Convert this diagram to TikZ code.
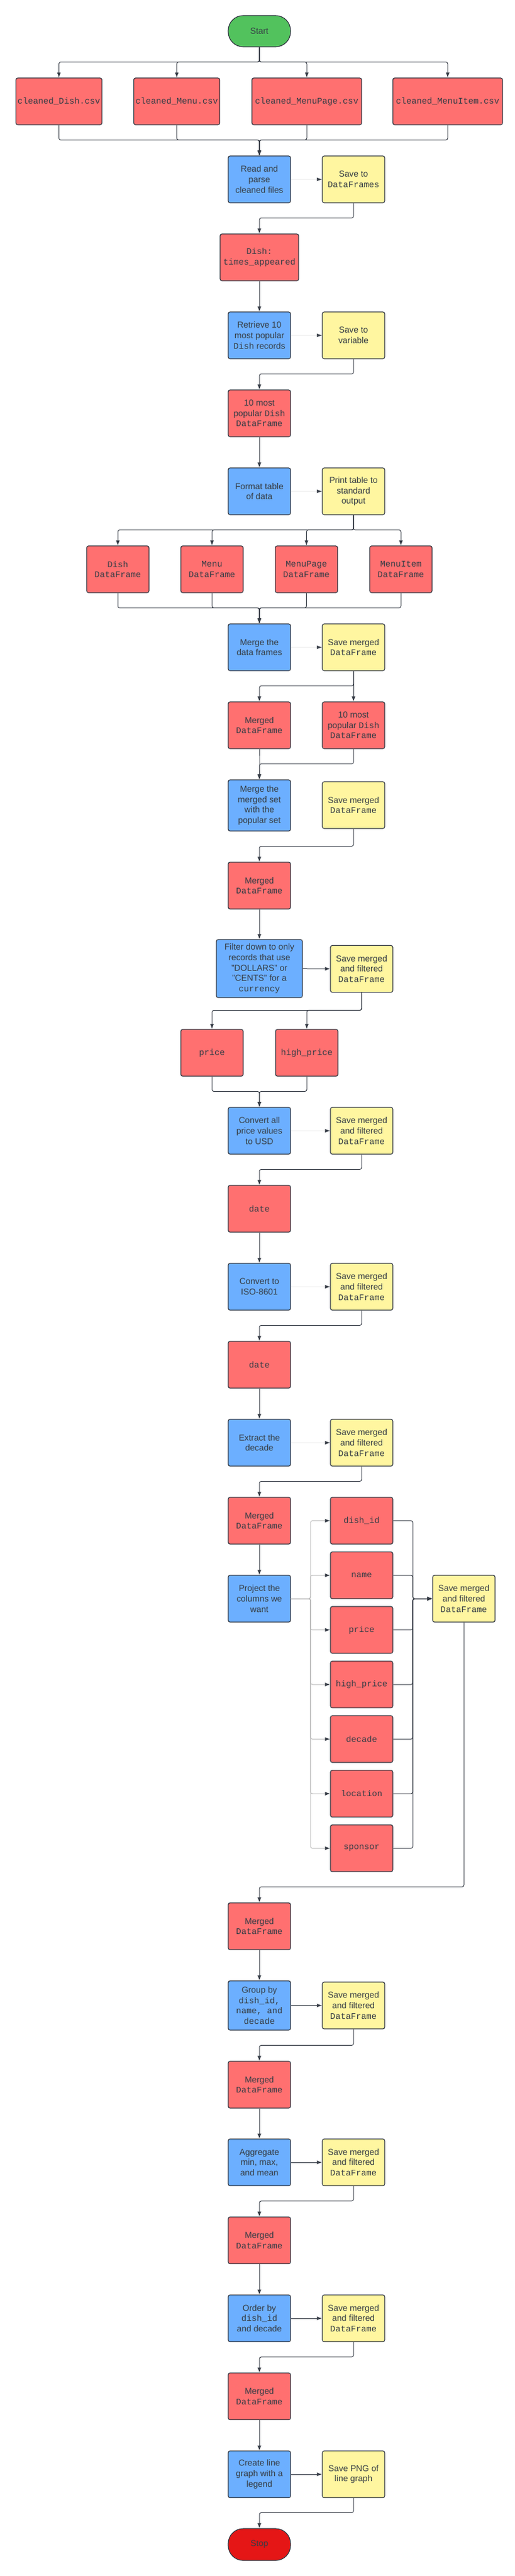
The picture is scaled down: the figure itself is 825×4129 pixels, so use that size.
\documentclass[tikz,border=0pt]{standalone}
\usepackage{fontspec}
\setmainfont{Liberation Sans}
\setmonofont{Liberation Mono}
\usetikzlibrary{arrows.meta}
\definecolor{datared}{HTML}{FF7070}
\definecolor{procblue}{HTML}{6CAFFF}
\definecolor{saveyellow}{HTML}{FFF6A0}
\definecolor{startgreen}{HTML}{52C25D}
\definecolor{stopred}{HTML}{E51616}
\definecolor{edge}{HTML}{343A44}
\definecolor{txt}{HTML}{363C45}
\newcommand{\boxfont}{\fontsize{13.8}{16.7}\selectfont}

\begin{document}
\begin{tikzpicture}[x=1pt, y=-1pt,
  box/.style={draw=edge, line width=1.2pt, rounded corners=3pt, minimum width=100pt,
    minimum height=75pt, inner sep=1pt, align=center, text=txt, font=\boxfont},
  data/.style={box, fill=datared},
  proc/.style={box, fill=procblue},
  keep/.style={box, fill=saveyellow},
  term/.style={box, minimum height=50pt, rounded corners=24pt},
  link/.style={draw=edge, line width=1pt, rounded corners=3pt, -{Latex[length=8pt, width=6pt]}},
  pale/.style={link, draw=black!28, -{Latex[length=8pt, width=6pt, color=edge]}},
  ghost/.style={link, draw=black!6, -{Latex[length=8pt, width=6pt, color=edge]}}]
\useasboundingbox (0,0) rectangle (825,4129);

% start and the cleaned files
\node[term, fill=startgreen] (start) at (416,50) {Start};
\foreach \n/\x/\w/\lbl in {csvDish/94.5/138/cleaned\_Dish.csv, csvMenu/283.5/138/cleaned\_Menu.csv,
    csvPage/492/176/cleaned\_MenuPage.csv, csvItem/718/176/cleaned\_MenuItem.csv}
  \node[data, minimum width=\w pt] (\n) at (\x,162.5) {\texttt{\lbl}};
\node[proc] (read) at (416,287.5) {Read and\\parse\\cleaned files};
\node[keep] (saveDF) at (567,287.5) {Save to\\\texttt{DataFrames}};
\node[data, minimum width=126pt] (times) at (416,412.5) {\texttt{Dish:}\\\texttt{times\_appeared}};
\node[proc] (retrieve) at (416,537.5) {Retrieve 10\\most popular\\\texttt{Dish} records};
\node[keep] (saveVar) at (567,537.5) {Save to\\variable};
\node[data] (popular) at (416,662.5) {10 most\\popular \texttt{Dish}\\\texttt{DataFrame}};
\node[proc] (format) at (416,787.5) {Format table\\of data};
\node[keep] (print) at (567,787.5) {Print table to\\standard\\output};

% the four data frames
\foreach \n/\x/\lbl in {dfDish/189/Dish, dfMenu/340/Menu, dfPage/491.5/MenuPage, dfItem/643/MenuItem}
  \node[data] (\n) at (\x,912.5) {\texttt{\lbl}\\\texttt{DataFrame}};
\node[proc] (merge) at (416,1037.5) {Merge the\\data frames};
\node[keep] (saveMerged) at (567,1037.5) {Save merged\\\texttt{DataFrame}};
\node[data] (merged) at (416,1162.5) {Merged\\\texttt{DataFrame}};
\node[data] (popularB) at (567,1162.5) {10 most\\popular \texttt{Dish}\\\texttt{DataFrame}};
\node[proc, minimum height=82pt] (mergeSet) at (416,1291) {Merge the\\merged set\\with the\\popular set};
\node[keep] (saveMergedB) at (567,1290.5) {Save merged\\\texttt{DataFrame}};
\node[data] (mergedB) at (416,1419.5) {Merged\\\texttt{DataFrame}};

% filtering and prices
\node[proc, minimum width=138pt, minimum height=93pt] (filter) at (416,1552.5)
  {Filter down to only\\records that use\\"DOLLARS" or\\"CENTS" for a\\\texttt{currency}};
\node[keep] (saveFilt) at (580,1553) {Save merged\\and filtered\\\texttt{DataFrame}};
\node[data] (price) at (340,1687.5) {\texttt{price}};
\node[data] (highPrice) at (492,1687.5) {\texttt{high\_price}};
\node[proc] (convert) at (416,1812.5) {Convert all\\price values\\to USD};
\node[keep] (saveUSD) at (580,1812.5) {Save merged\\and filtered\\\texttt{DataFrame}};
\node[data] (date) at (416,1937.5) {\texttt{date}};
\node[proc] (iso) at (416,2062.5) {Convert to\\ISO-8601};
\node[keep] (saveISO) at (580,2062.5) {Save merged\\and filtered\\\texttt{DataFrame}};
\node[data] (dateB) at (416,2187.5) {\texttt{date}};
\node[proc] (extract) at (416,2312.5) {Extract the\\decade};
\node[keep] (saveDecade) at (580,2312.5) {Save merged\\and filtered\\\texttt{DataFrame}};

% projection
\node[data] (mergedC) at (416,2437.5) {Merged\\\texttt{DataFrame}};
\node[proc] (project) at (416,2562.5) {Project the\\columns we\\want};
\foreach \lbl [count=\i from 0] in {dish\_id, name, price, high\_price, decade, location, sponsor}
  \node[data] (col\i) at (580,{2437.5+87.5*\i}) {\texttt{\lbl}};
\node[keep] (saveCols) at (744,2562.5) {Save merged\\and filtered\\\texttt{DataFrame}};

% grouping to the end
\node[data] (mergedD) at (416,3087.5) {Merged\\\texttt{DataFrame}};
\node[proc, minimum height=79pt] (group) at (416,3214.5)
  {Group by\\\texttt{dish\_id,}\\\texttt{name, and}\\\texttt{decade}};
\node[keep] (saveGroup) at (567,3214.5) {Save merged\\and filtered\\\texttt{DataFrame}};
\node[data] (mergedE) at (416,3341.5) {Merged\\\texttt{DataFrame}};
\node[proc] (aggregate) at (416,3466) {Aggregate\\min, max,\\and mean};
\node[keep] (saveAgg) at (567,3466) {Save merged\\and filtered\\\texttt{DataFrame}};
\node[data] (mergedF) at (416,3591) {Merged\\\texttt{DataFrame}};
\node[proc] (order) at (416,3716) {Order by\\\texttt{dish\_id}\\and decade};
\node[keep] (saveOrder) at (567,3716) {Save merged\\and filtered\\\texttt{DataFrame}};
\node[data] (mergedG) at (416,3841) {Merged\\\texttt{DataFrame}};
\node[proc] (create) at (416,3966) {Create line\\graph with a\\legend};
\node[keep] (savePNG) at (567,3966) {Save PNG of\\line graph};
\node[term, fill=stopred, minimum height=51pt] (stop) at (416,4078.5) {Stop};

% fan out and in
\foreach \n in {csvDish,csvMenu,csvPage,csvItem} {
  \draw[link] (start.south) |- ([yshift=25pt]\n.north) -- (\n.north);
  \draw[link] (\n.south) |- ([yshift=25pt]read.north) -- (read.north);
}
\foreach \n in {dfDish,dfMenu,dfPage,dfItem} {
  \draw[link] (print.south) |- ([yshift=25pt]\n.north) -- (\n.north);
  \draw[link] (\n.south) |- ([yshift=25pt]merge.north) -- (merge.north);
}
\foreach \n in {merged,popularB}
  \draw[link] (\n.south) |- ([yshift=25pt]mergeSet.north) -- (mergeSet.north);
\foreach \n in {price,highPrice} {
  \draw[link] (saveFilt.south) |- ([yshift=30pt]\n.north) -- (\n.north);
  \draw[link] (\n.south) |- ([yshift=25pt]convert.north) -- (convert.north);
}
\foreach \i in {0,...,6} {
  \draw[pale] (project.east) -- ++(31.5,0) |- (col\i.west);
  \draw[link] (col\i.east) -- ++(31.5,0) |- (saveCols.west);
}

% straight links
\foreach \a/\b in {times/retrieve, popular/format, saveMerged/popularB, mergedB/filter, date/iso,
    dateB/extract, mergedC/project, mergedD/group, mergedE/aggregate, mergedF/order, mergedG/create,
    filter/saveFilt, group/saveGroup, aggregate/saveAgg, order/saveOrder, create/savePNG}
  \draw[link] (\a) -- (\b);
\foreach \a/\b in {read/saveDF, retrieve/saveVar, format/print, merge/saveMerged, convert/saveUSD,
    iso/saveISO, extract/saveDecade}
  \draw[ghost] (\a) -- (\b);

% save boxes back to the main column
\foreach \a/\b in {saveDF/times, saveVar/popular, saveMerged/merged, saveMergedB/mergedB, saveUSD/date,
    saveISO/dateB, saveDecade/mergedC, saveCols/mergedD, saveGroup/mergedE, saveAgg/mergedF,
    saveOrder/mergedG, savePNG/stop}
  \draw[link] (\a.south) |- ([yshift=25pt]\b.north) -- (\b.north);
\end{tikzpicture}
\end{document}
